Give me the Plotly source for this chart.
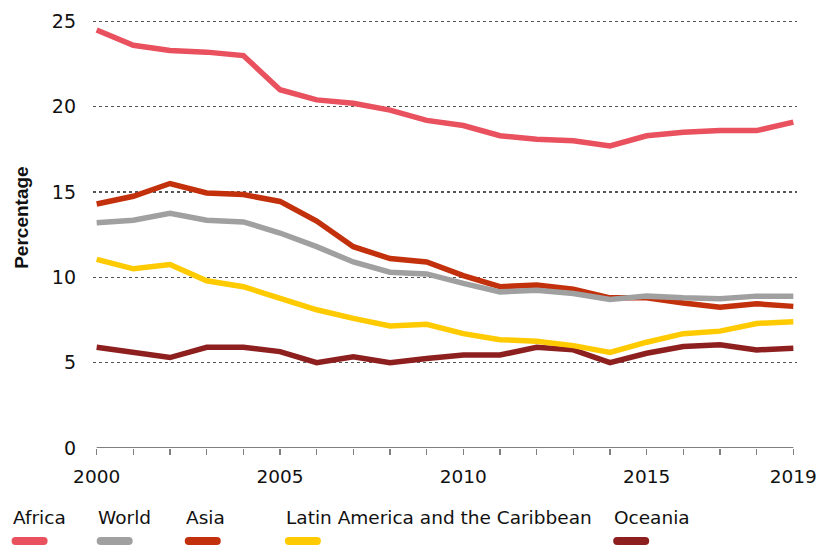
import plotly.graph_objects as go

years = list(range(2000, 2020))
africa = [24.5, 23.6, 23.3, 23.2, 23.0, 21.0, 20.4, 20.2, 19.8, 19.2, 18.9, 18.3, 18.1, 18.0, 17.7, 18.3, 18.5, 18.6, 18.6, 19.1]
world = [13.2, 13.35, 13.75, 13.35, 13.25, 12.6, 11.8, 10.9, 10.3, 10.2, 9.65, 9.15, 9.25, 9.05, 8.7, 8.9, 8.8, 8.75, 8.9, 8.9]
asia = [14.3, 14.75, 15.5, 14.95, 14.85, 14.45, 13.3, 11.8, 11.1, 10.9, 10.1, 9.45, 9.55, 9.3, 8.8, 8.8, 8.5, 8.25, 8.45, 8.3]
latam = [11.05, 10.5, 10.75, 9.8, 9.45, 8.8, 8.1, 7.6, 7.15, 7.25, 6.7, 6.35, 6.25, 6.0, 5.6, 6.2, 6.7, 6.85, 7.3, 7.4]
oceania = [5.9, 5.6, 5.3, 5.9, 5.9, 5.65, 5.0, 5.35, 5.0, 5.25, 5.45, 5.45, 5.9, 5.75, 5.0, 5.55, 5.95, 6.05, 5.75, 5.85]

series_names = ["Africa", "World", "Asia", "Latin America and the Caribbean", "Oceania"]
series_values = [africa, world, asia, latam, oceania]
colors = ["#E9515E", "#A0A0A0", "#C3300C", "#FFCA00", "#8E1F1F"]

y_ticks = [0, 5, 10, 15, 20, 25]
x_label_years = [2000, 2005, 2010, 2015, 2019]

FONT = "DejaVu Sans, sans-serif"

fig = go.Figure()
order = [4, 3, 2, 1, 0]
for i in order:
    fig.add_trace(go.Scatter(
        x=years, y=series_values[i], mode="lines", name=series_names[i],
        line=dict(color=colors[i], width=5.5), showlegend=False,
    ))

W, H = 817, 546
sx_2000, sx_2019 = 97, 793
sy_0, sy_25 = 448, 21
ppy = (sx_2019 - sx_2000) / 19
ppu = (sy_0 - sy_25) / 25
x0, x1 = 1999.9, 2019.1
y0, y1 = 0, 25.2
ml = sx_2000 - (2000 - x0) * ppy
pw = (x1 - x0) * ppy
mr = W - ml - pw
mb = H - sy_0
ph = (y1 - y0) * ppu
mt = H - mb - ph

def px_to_paper_x(px):
    return (px - ml) / pw

def py_to_paper_y(py):
    return (H - mb - py) / ph

fig.add_shape(type="line", xref="x", yref="y", x0=years[0], x1=years[-1], y0=0, y1=0,
              line=dict(color="#7F7F7F", width=2.2), layer="above")

legend_x = [12, 97, 185, 285, 613]
annotations = []
for name, col, lx in zip(series_names, colors, legend_x):
    annotations.append(dict(
        text=name, x=px_to_paper_x(lx), y=py_to_paper_y(518), xref="paper", yref="paper",
        xanchor="left", yanchor="middle", showarrow=False, xshift=-1,
        font=dict(family=FONT, size=18.5, color="#111111"),
    ))
    sw, sh = 36, 8
    r = sh / 2
    xa, xb = px_to_paper_x(lx), px_to_paper_x(lx + sw)
    rx = r / pw
    yt, yb = py_to_paper_y(541 - r), py_to_paper_y(541 + r)
    ym = py_to_paper_y(541)
    path = (f"M{xa+rx},{yt} L{xb-rx},{yt} Q{xb},{yt} {xb},{ym} Q{xb},{yb} {xb-rx},{yb} "
            f"L{xa+rx},{yb} Q{xa},{yb} {xa},{ym} Q{xa},{yt} {xa+rx},{yt} Z")
    fig.add_shape(type="path", path=path, xref="paper", yref="paper",
                  fillcolor=col, line=dict(width=0))

annotations.append(dict(
    text="<b>Percentage</b>", x=px_to_paper_x(22), y=py_to_paper_y(218), xref="paper", yref="paper",
    xanchor="center", yanchor="middle", textangle=-90, showarrow=False,
    font=dict(family="Liberation Sans, Arial, sans-serif", size=19, color="#111111"),
))

fig.update_layout(
    width=W, height=H,
    margin=dict(l=ml, r=mr, t=mt, b=mb, pad=0, autoexpand=False),
    plot_bgcolor="white", paper_bgcolor="white",
    annotations=annotations,
    font=dict(family=FONT, size=19, color="#111111"),
    xaxis=dict(
        range=[x0, x1], tickmode="array", tickvals=years,
        ticktext=[str(y) if y in x_label_years else "" for y in years],
        showgrid=False, zeroline=False, showline=False, automargin=False,
        ticks="outside", ticklen=6, tickwidth=1.5, tickcolor="#7F7F7F",
        ticklabelstandoff=6, ticklabeloverflow="allow",
        tickfont=dict(family=FONT, size=18.5, color="#111111"),
    ),
    yaxis=dict(
        range=[y0, y1], tickmode="array", tickvals=y_ticks, automargin=False,
        showgrid=True, gridcolor="#555555", griddash="dot", gridwidth=1.3,
        zeroline=False, showline=False, ticks="",
        ticklabelstandoff=16,
        tickfont=dict(family=FONT, size=19, color="#111111"),
    ),
)

fig.write_html(
    "out.html",
    config={"displayModeBar": False, "staticPlot": True},
    post_script="document.body.style.margin='0';document.body.style.overflow='hidden';",
)
